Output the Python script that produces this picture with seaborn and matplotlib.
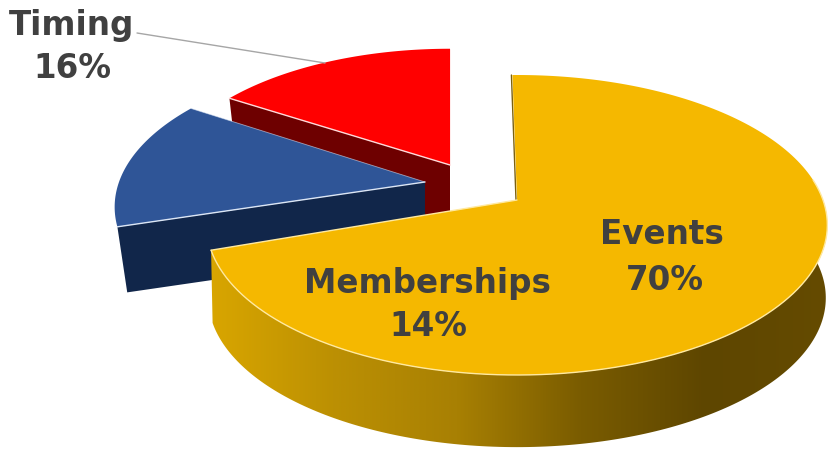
import numpy as np
import matplotlib
matplotlib.use("Agg")
import matplotlib.pyplot as plt
from matplotlib.patches import Polygon
import seaborn as sns

# Data
categories = ["Events", "Memberships", "Timing"]
shares = [70, 14, 16]

# Look of each slice, same order as categories
top_colors = ["#F5B800", "#2F5597", "#FF0000"]
face_colors = ["#8A6A00", "#11264A", "#6E0000"]
edge_colors = ["#FFE9A0", "#DCE6F5", "#FFD9D9"]
apex_x = [517, 425, 450]
apex_y = [200, 182, 165]
slice_scale = [1.0, 1.0, 0.93]
slice_turn = [0, -2, -1]
slice_depth = [73, 67, 60]
bottom_scale = [0.995, 0.968, 0.968]

# Text colours and gradient on the gold wall
text_color = "#404040"
wall_colors = ["#D9A600", "#BC9003", "#A88003", "#7A5C00", "#5E4600", "#654B00"]

START_ANGLE = 91

sns.set_theme(style="white")
plt.rcParams["font.family"] = ["DejaVu Sans"]


def project(theta, cx, cy, scale, depth=0, shrink=1.0):
    """Perspective view of a point on the rim of a flat unit circle."""
    u = np.cos(np.radians(theta))
    v = np.sin(np.radians(theta))
    w = 1 + v / 6
    x = 306 * u / w
    y = (150 * v + 25) / w - 25
    return cx + scale * shrink * x, cy - scale * shrink * y + depth


fig, ax = plt.subplots(figsize=(8.29, 4.49), dpi=100)
fig.subplots_adjust(left=0, right=1, top=1, bottom=0)
ax.set_xlim(0, 829)
ax.set_ylim(449, 0)
ax.axis("off")

# slice angles from the values, clockwise from the top
ends = START_ANGLE - np.cumsum(shares) / np.sum(shares) * 360
starts = np.r_[START_ANGLE, ends[:-1]]

# far slices first, gold last so it sits in front
for i in [2, 1, 0]:
    cx, cy, sc, d = apex_x[i], apex_y[i], slice_scale[i], slice_depth[i]
    first = starts[i] + slice_turn[i]
    last = ends[i] + slice_turn[i]
    theta = np.linspace(first, last, 200)
    rx, ry = project(theta, cx, cy, sc)
    z = 2 + (2 - i) * 2

    if categories[i] == "Events":
        # outer wall, left corner round to the right side
        wall = np.linspace(last, 20, 200)
        tx, ty = project(wall, cx, cy, sc)
        bx, by = project(wall, cx, cy, sc, d, bottom_scale[i])
        poly = Polygon(np.c_[np.r_[tx, bx[::-1]], np.r_[ty, by[::-1]]],
                       closed=True, transform=ax.transData, facecolor="none", edgecolor="none")
        ax.add_patch(poly)
        cmap = sns.blend_palette(wall_colors, as_cmap=True)
        im = ax.imshow(np.linspace(0, 1, 256)[None, :], cmap=cmap, aspect="auto",
                       extent=(208, 830, 449, 240), zorder=z - 1)
        im.set_clip_path(poly)
        ax.set_xlim(0, 829)
        ax.set_ylim(449, 0)
        cut_x, cut_y = rx[-1], ry[-1]
    else:
        # cut face under the edge that looks at the viewer
        cut_x, cut_y = rx[0], ry[0]
        bx, by = project(first, cx, cy, sc, d, bottom_scale[i])
        ax.fill([cx, cut_x, bx, cx], [cy, cut_y, by, cy + d], color=face_colors[i], lw=0, zorder=z - 1)

    ax.fill(np.r_[cx, rx], np.r_[cy, ry], color=top_colors[i], lw=0, zorder=z)

    # thin light edges
    ax.plot([cx, cut_x], [cy, cut_y], color=edge_colors[i], lw=1.0, zorder=z)
    if categories[i] == "Events":
        fx, fy = project(np.linspace(last, 8, 200), cx, cy, sc)
        ax.plot(fx, fy, color=edge_colors[i], lw=1.0, zorder=z)
        # dark sliver along the upright cut
        ax.plot([cx - 1, rx[0] - 1], [cy, ry[0]], color="#7A6010", lw=1.0, zorder=z - 1)
    else:
        ax.plot([cx, rx[-1]], [cy, ry[-1]], color=edge_colors[i], lw=0.6, alpha=0.6, zorder=z)

# leader line for the Timing label
ax.plot([137, 325], [33, 63], color="#A6A6A6", lw=1.0, zorder=8)

# labels
label_x = [662, 427, 72]
name_y = [235, 283, 25]
pct_x = [665, 428, 72]
pct_y = [281, 327, 68]
for i, name in enumerate(categories):
    ax.text(label_x[i], name_y[i], name, ha="center", va="center", fontsize=23.5, fontweight="bold",
            color=text_color, zorder=10)
    ax.text(pct_x[i], pct_y[i], f"{shares[i]}%", ha="center", va="center", fontsize=23.5, fontweight="bold",
            color=text_color, zorder=10)

fig.savefig("out.png", dpi=100, facecolor="white")
